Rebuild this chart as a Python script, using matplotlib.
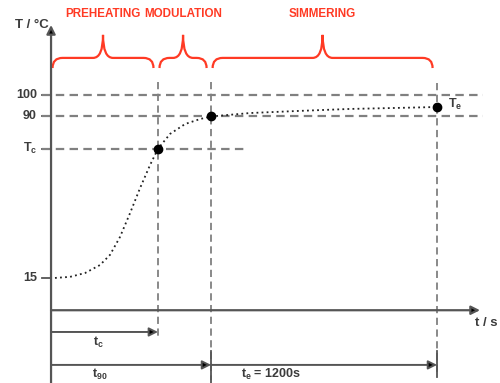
import matplotlib
matplotlib.use('Agg')
import matplotlib.pyplot as plt
import matplotlib.patches as mpatches
from matplotlib.path import Path

# --- data ---------------------------------------------------------------
temp_levels = [100, 90, 75, 15]
temp_labels = ['100', '90', r'T$_{\rm c}$', '15']
t_c = 568
t_90 = 850
t_e = 2050
T_c = 75
T_e = 94.4
phase_names = ['PREHEATING', 'MODULATION', 'SIMMERING']
phase_bounds = [0, t_c, t_90, t_e]

# temperature curve (time in s, temperature in degC)
curve_t = [21, 101, 181, 260, 313, 366, 420, 473, 526, 568, 632, 712, 791, 850,
           1057, 1322, 1588, 1853, 2050]
curve_T = [15, 15.5, 17.3, 21, 25.7, 34, 45.2, 56.8, 67.5, 75, 81.9, 86.5, 88.8,
           90, 91.6, 92.6, 93.5, 94, 94.4]

# --- styling ------------------------------------------------------------
plt.rcParams['mathtext.fontset'] = 'custom'
plt.rcParams['mathtext.rm'] = 'Liberation Sans:bold'
plt.rcParams['mathtext.it'] = 'Liberation Sans:bold'
plt.rcParams['mathtext.bf'] = 'Liberation Sans:bold'
font = dict(family='Liberation Sans', weight='bold', color='#3c3c3c')
axis_col = '#555555'
dash_col = '#808080'
red = '#ff3a24'

fig = plt.figure(figsize=(5, 3.83), dpi=100)
ax = fig.add_axes([0, 0, 1, 1])
ax.set_xlim(-271, 2384)
ax.set_ylim(-33.8, 144.1)
ax.axis('off')

# axes with arrows
ax.annotate('', xy=(0, 132.5), xytext=(0, -34),
            arrowprops=dict(arrowstyle='-|>', mutation_scale=13, lw=1.6,
                            color=axis_col, fc='black', shrinkA=0, shrinkB=0))
ax.annotate('', xy=(2278, 0), xytext=(0, 0),
            arrowprops=dict(arrowstyle='-|>', mutation_scale=13, lw=1.6,
                            color=axis_col, fc='black', shrinkA=0, shrinkB=0))
ax.text(-190, 132.3, 'T / °C', fontsize=9.5, va='center', ha='left', **font)
ax.text(2251, -5.9, 't / s', fontsize=9.5, va='center', ha='left', **font)

# temperature ticks, labels and dashed levels
for lev, lab in zip(temp_levels, temp_labels):
    ax.plot([-50, 0], [lev, lev], color=axis_col, lw=1.3)
    ax.text(-75, lev, lab, fontsize=9, ha='right', va='center', **font)
ax.plot([-50, 2294], [100, 100], color=dash_col, lw=1.6, dashes=(3.8, 2.4))
ax.plot([-50, 2294], [90, 90], color=dash_col, lw=1.6, dashes=(3.8, 2.4))
ax.plot([-50, 1046], [T_c, T_c], color=dash_col, lw=1.6, dashes=(3.8, 2.4))

# vertical dashed time markers
ax.plot([t_c, t_c], [106, -13.8], color=dash_col, lw=1.3, dashes=(4, 2.5))
ax.plot([t_90, t_90], [106, -32.4], color=dash_col, lw=1.3, dashes=(4, 2.5))
ax.plot([t_e, t_e], [105.6, -30.5], color=dash_col, lw=1.3, dashes=(4, 2.5))

# curve and points
ax.plot(curve_t, curve_T, color='#222222', lw=1.3, linestyle=(0, (1, 1.8)))
ax.plot([t_c, t_90, t_e], [T_c, 90, T_e], 'o', color='black', ms=6)
ax.text(2108, 95.5, r'T$_{\rm e}$', fontsize=9, ha='left', va='center', **font)

# time arrows
arrow = dict(arrowstyle='-|>', mutation_scale=13, lw=1.4, color=axis_col,
             fc='black', shrinkA=0, shrinkB=0)
ax.annotate('', xy=(t_c, -10.1), xytext=(0, -10.1), arrowprops=arrow)
ax.annotate('', xy=(t_90, -25.4), xytext=(0, -25.4), arrowprops=arrow)
ax.annotate('', xy=(t_e, -25.4), xytext=(t_90, -25.4), arrowprops=arrow)
ax.plot([t_90, t_90], [-19, -34], color=axis_col, lw=1.3)
ax.plot([t_e, t_e], [-19, -31], color=axis_col, lw=1.3)
ax.text(250, -14.8, r't$_{\rm c}$', fontsize=9, ha='center', va='center', **font)
ax.text(260, -29.8, r't$_{\rm 90}$', fontsize=9, ha='center', va='center', **font)
ax.text(1010, -29.8, r't$_{\rm e}$ = 1200s', fontsize=9, ha='left', va='center',
        **font)

# phase braces
yb, yh, yt = 112.5, 117.2, 127.9
r = 53
for name, a, b in zip(phase_names, phase_bounds[:-1], phase_bounds[1:]):
    x0, x1 = a + 8, b - 24
    xm = (x0 + x1) / 2
    verts = [(x0, yb), (x0, yh), (x0 + r, yh),
             (xm - r, yh), (xm, yh), (xm, yt),
             (xm, yh), (xm + r, yh),
             (x1 - r, yh), (x1, yh), (x1, yb)]
    codes = [Path.MOVETO, Path.CURVE3, Path.CURVE3,
             Path.LINETO, Path.CURVE3, Path.CURVE3,
             Path.CURVE3, Path.CURVE3,
             Path.LINETO, Path.CURVE3, Path.CURVE3]
    ax.add_patch(mpatches.PathPatch(Path(verts, codes), fill=False,
                                    edgecolor=red, lw=1.6))
    ax.text(xm, 137.5, name, fontsize=8.4, ha='center', va='center', color=red,
            family='Liberation Sans', weight='bold')

fig.savefig('out.png', dpi=100)
